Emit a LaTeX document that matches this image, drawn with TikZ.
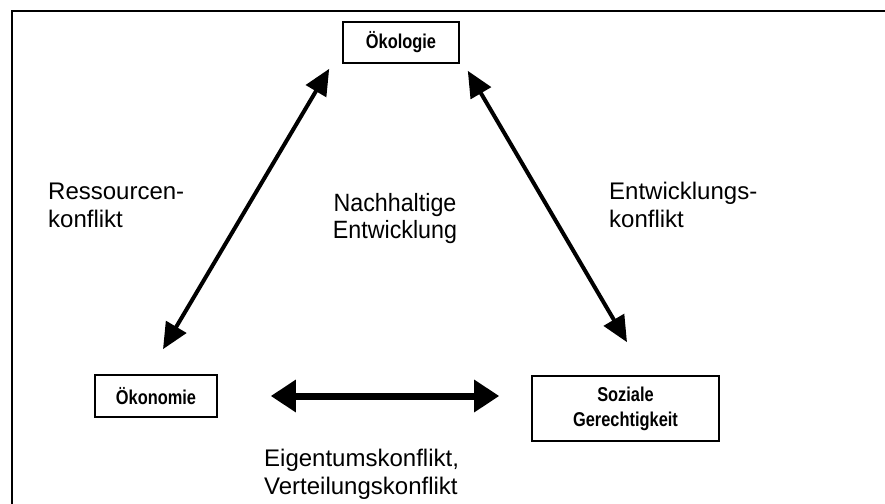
\documentclass[tikz,border=0pt]{standalone}
\usepackage{fontspec}
\setmainfont{Liberation Sans}
\newfontfamily\boxfont[FakeStretch=0.82]{Liberation Sans}
\newfontfamily\tallfont[FakeStretch=0.93]{Liberation Sans}
\usetikzlibrary{arrows.meta, positioning, calc}
\tikzset{
  every picture/.style={x=1pt, y=1pt},
  frame/.style={draw=black, line width=2pt},
  box/.style={draw=black, line width=1.6pt, align=center, inner sep=0pt, font=\boxfont\bfseries\fontsize{20}{25}\selectfont},
  label/.style={align=left, inner sep=0pt, font=\fontsize{24}{28}\selectfont},
  dbl/.style={{Triangle[length=26pt, width=23pt]}-{Triangle[length=26pt, width=23pt]}, line width=4pt},
  dblthick/.style={{Triangle[length=25pt, width=31pt]}-{Triangle[length=25pt, width=31pt]}, line width=7pt},
}

\begin{document}
\begin{tikzpicture}
  \useasboundingbox (0,0) rectangle (885,-503);
  % frame, cut off at right and bottom
  \draw[frame] (12,-510) |- (890,-11);
  % the three poles
  \node[box, minimum width=116pt, minimum height=41pt] (oeko) at (401,-42.5) {Ökologie};
  \node[box, minimum width=122pt, minimum height=42pt] (oekon) at (156,-396) {Ökonomie};
  \node[box, minimum width=187pt, minimum height=65pt] (sozial) at (625.5,-408.5) {Soziale\\Gerechtigkeit};
  % conflicts
  \draw[dbl] ([shift={(7,25)}]oekon.north) -- ([shift={(-13,-5)}]oeko.south west);
  \draw[dbl] ([shift={(8,-7)}]oeko.south east) -- ([shift={(1.5,33)}]sozial.north);
  \draw[dblthick] ([xshift=53pt]oekon.east) -- ([xshift=-32pt]sozial.west |- oekon.east);
  % labels
  \node[label, anchor=north west] (ressource) at (48,-183) {Ressourcen-\\konflikt};
  \node[label, anchor=north west] (entwkonf) at (609,-182) {Entwicklungs-\\konflikt};
  \node[label, anchor=north, align=center, font=\tallfont\fontsize{25}{27}\selectfont] (nachhalt) at (395,-193) {Nachhaltige\\Entwicklung};
  \node[label, anchor=north west] (eigentum) at (264,-449) {Eigentumskonflikt,\\Verteilungskonflikt};
\end{tikzpicture}
\end{document}
